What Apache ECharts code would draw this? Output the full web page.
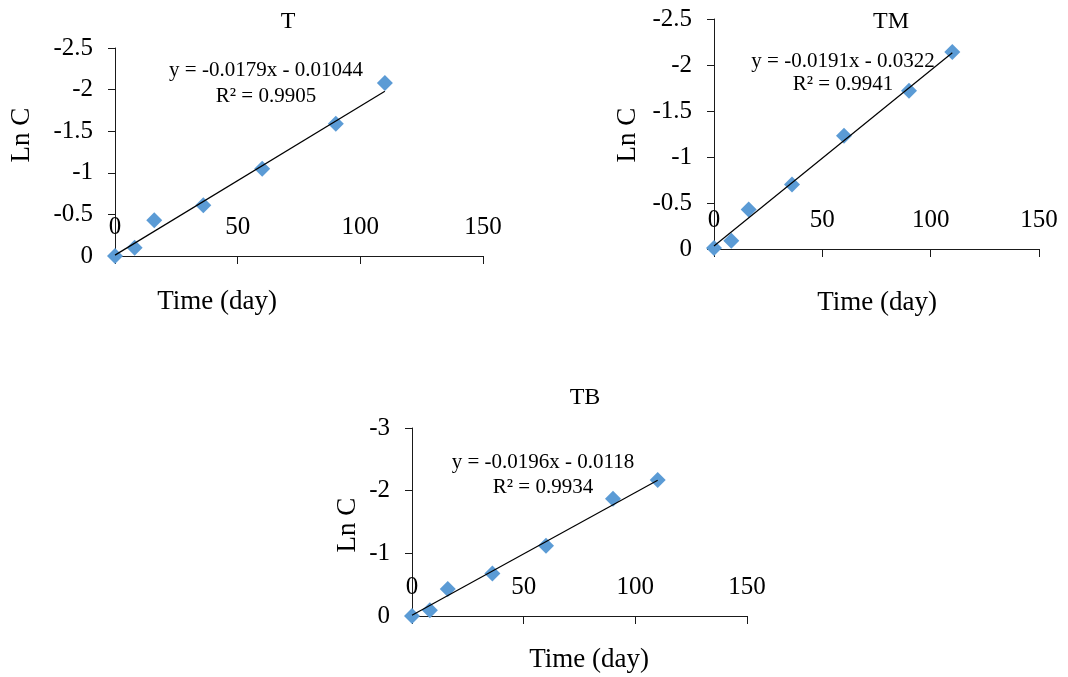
<!DOCTYPE html>
<html>
<head>
<meta charset="utf-8">
<title>Ln C vs time</title>
<script src="https://cdn.jsdelivr.net/npm/echarts@6/dist/echarts.min.js"></script>
<style>
  html, body { margin: 0; padding: 0; background: #fff; }
  #chart { width: 1068px; height: 677px; }
</style>
</head>
<body>
<div id="chart"></div>
<script>
// sampling days (same for all three treatments)
const days = [0, 8, 16, 36, 60, 90, 110]

// Ln C
const lnT = [0, -0.10, -0.43, -0.61, -1.05, -1.59, -2.08]
const lnTM = [-0.01, -0.09, -0.43, -0.70, -1.23, -1.72, -2.14]
const lnTB = [0, -0.09, -0.43, -0.68, -1.12, -1.87, -2.17]

// linear trend lines as printed on the chart
const panelNames = ['T', 'TM', 'TB']
const slopes = [-0.0179, -0.0191, -0.0196]
const intercepts = [-0.01044, -0.0322, -0.0118]
const r2Values = ['0.9905', '0.9941', '0.9934']
const eqTexts = ['y = -0.0179x - 0.01044', 'y = -0.0191x - 0.0322', 'y = -0.0196x - 0.0118']

// axis ticks
const xTicks = [0, 50, 100, 150]
const yMins = [-2.5, -2.5, -3]
const yIntervals = [0.5, 0.5, 1]

const FONT = '"Liberation Serif", "Times New Roman", serif'
const AXIS_COLOR = '#1a1a1a'
const DOT_COLOR = '#5b9bd5'

// panel layout (px)
const panels = [
  { grid: { left: 115, top: 48, width: 368, height: 208 }, title: [283, 5], eq: [266, 70], r2: [266, 96], yName: [22, 135], xName: [217, 302] },
  { grid: { left: 714, top: 19, width: 325, height: 230 }, title: [886, 5], eq: [843, 61], r2: [843, 84], yName: [628, 135], xName: [877, 303] },
  { grid: { left: 412, top: 428, width: 335, height: 188 }, title: [580, 381], eq: [543, 462], r2: [543, 487], yName: [348, 525], xName: [589, 660] }
]

const seriesData = [lnT, lnTM, lnTB]

const chart = echarts.init(document.getElementById('chart'))

const grids = []
const xAxes = []
const yAxes = []
const series = []
const titles = []
const texts = []

panels.forEach((p, i) => {
  grids.push(Object.assign({}, p.grid))
  xAxes.push({
    gridIndex: i,
    type: 'value',
    min: xTicks[0],
    max: xTicks[xTicks.length - 1],
    interval: xTicks[1] - xTicks[0],
    splitLine: { show: false },
    axisLine: { onZero: false, lineStyle: { color: AXIS_COLOR, width: 1 } },
    axisTick: { show: true, length: 8, lineStyle: { color: AXIS_COLOR } },
    axisLabel: { inside: true, margin: 16, color: '#000', fontFamily: FONT, fontSize: 25 }
  })
  yAxes.push({
    gridIndex: i,
    type: 'value',
    inverse: true,
    min: yMins[i],
    max: 0,
    interval: yIntervals[i],
    splitLine: { show: false },
    axisLine: { show: true, onZero: false, lineStyle: { color: AXIS_COLOR, width: 1 } },
    axisTick: { show: true, length: 7, lineStyle: { color: AXIS_COLOR } },
    axisLabel: { margin: 22, color: '#000', fontFamily: FONT, fontSize: 25 }
  })
  const lastDay = days[days.length - 1]
  series.push({
    type: 'line',
    xAxisIndex: i,
    yAxisIndex: i,
    data: [
      [days[0], slopes[i] * days[0] + intercepts[i]],
      [lastDay, slopes[i] * lastDay + intercepts[i]]
    ],
    showSymbol: false,
    lineStyle: { color: '#000', width: 1.2 },
    silent: true,
    z: 3
  })
  series.push({
    type: 'scatter',
    xAxisIndex: i,
    yAxisIndex: i,
    data: days.map((d, k) => [d, seriesData[i][k]]),
    symbol: 'diamond',
    symbolSize: 16,
    itemStyle: { color: DOT_COLOR, opacity: 1 },
    z: 2
  })
  titles.push({
    text: panelNames[i],
    left: p.title[0],
    top: p.title[1],
    textAlign: 'center',
    textStyle: { fontFamily: FONT, fontSize: 24, fontWeight: 'normal', color: '#000' }
  })
  const txt = (str, pos, size, extra) => Object.assign({
    type: 'text',
    x: pos[0],
    y: pos[1],
    style: { text: str, fill: '#000', font: size + 'px ' + FONT, align: 'center', verticalAlign: 'middle' }
  }, extra || {})
  texts.push(txt(eqTexts[i], p.eq, 21))
  texts.push(txt('R² = ' + r2Values[i], p.r2, 21))
  texts.push(txt('Ln C', p.yName, 27, { rotation: Math.PI / 2 }))
  texts.push(txt('Time (day)', p.xName, 27))
})

chart.setOption({
  animation: false,
  backgroundColor: '#fff',
  title: titles,
  grid: grids,
  xAxis: xAxes,
  yAxis: yAxes,
  series: series,
  graphic: { elements: texts }
})
</script>
</body>
</html>
